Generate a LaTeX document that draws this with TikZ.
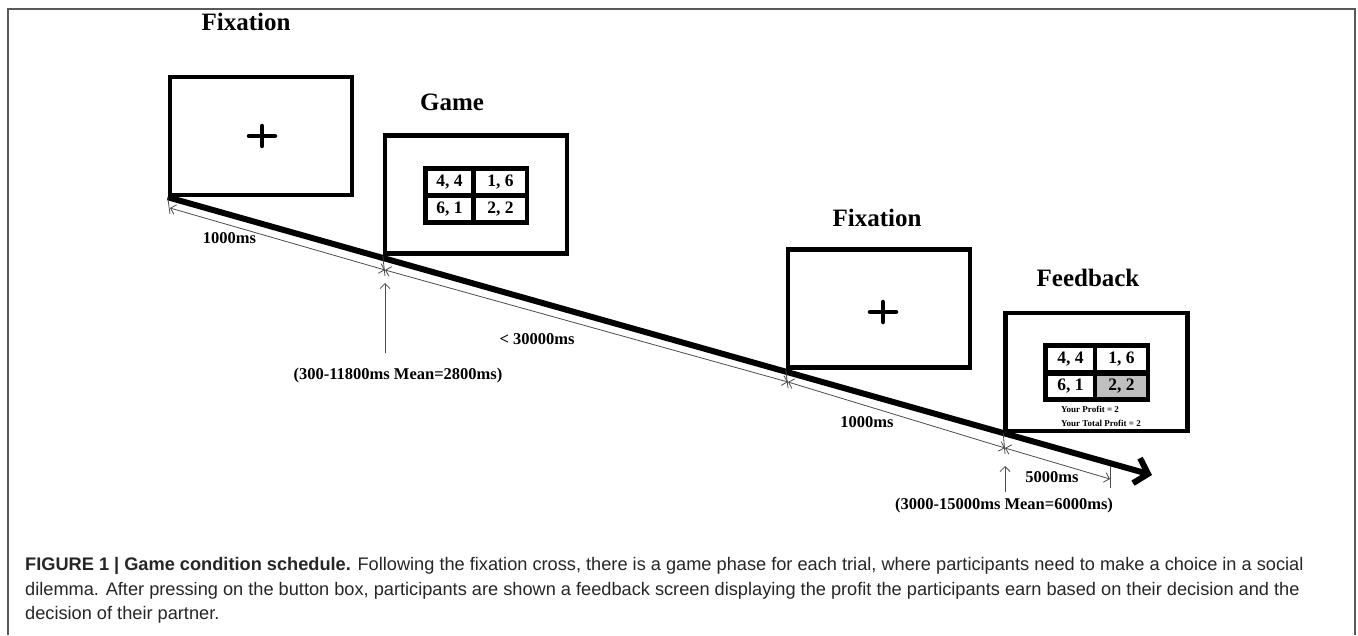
\documentclass[tikz,border=0pt]{standalone}
\usepackage{fontspec}
\setmainfont{Liberation Serif}
\setsansfont{Liberation Sans}
\usetikzlibrary{arrows.meta,calc}
\begin{document}
\begin{tikzpicture}[x=1pt,y=-1pt,
  screen/.style={draw=black,line width=4.5pt,fill=white,minimum width=182pt,minimum height=118pt,inner sep=0pt},
  lbl/.style={font=\fontsize{25}{25}\selectfont\bfseries,inner sep=0pt},
  tlbl/.style={font=\fontsize{16.5}{17}\selectfont\bfseries,inner sep=0pt},
  tabframe/.style={fill=black,inner sep=0pt,minimum width=106pt,minimum height=59pt},
  cellbox/.style={fill=white,inner sep=0pt,minimum height=22pt,font=\fontsize{17.5}{17}\selectfont\bfseries},
  profittxt/.style={font=\fontsize{9}{9}\selectfont\bfseries,inner sep=0pt,anchor=base west},
  crossline/.style={line width=4.5pt,line cap=round},
  dimline/.style={draw=black!70,line width=0.8pt,{Straight Barb[length=5pt,width=10pt]}-{Straight Barb[length=5pt,width=10pt]}},
  tickline/.style={draw=black!70,line width=0.8pt},
  uparrow/.style={draw=black!70,line width=0.8pt,-{Straight Barb[length=5pt,width=10pt]}},
  timeline/.style={line width=6pt,-{Straight Barb[length=12pt,width=26pt]}},
  captxt/.style={font=\sffamily\fontsize{18.2}{22}\selectfont,inner sep=0pt,anchor=base west,color=black!85}
]
\useasboundingbox (0,0) rectangle (1358,635);
\fill[white] (0,0) rectangle (1358,635);
% outer frame
\draw[black!65,line width=1.6pt] (8,635) -- (8,9) -- (1355,9) -- (1355,635);

% screens
\node[screen] (fix1) at (261,136) {};
\node[screen] (game) at (476,194.5) {};
\node[screen] (fix2) at (879,308.5) {};
\node[screen] (fb) at (1096.5,372) {};

% labels
\node[lbl] (lfix1) at (246,22) {Fixation};
\node[lbl] (lgame) at (452,102) {Game};
\node[lbl] (lfix2) at (877,218) {Fixation};
\node[lbl] (lfb) at (1088,278) {Feedback};

% crosses
\draw[crossline] (249,136) -- (275,136) (262,126) -- (262,146);
\draw[crossline] (870,312) -- (896,312) (883,302) -- (883,322);

% game table
\node[tabframe] (gtab) at (476,195.5) {};
\node[cellbox,minimum width=43pt] (g11) at (449.5,182) {4, 4};
\node[cellbox,minimum width=49pt] (g12) at (500.5,182) {1, 6};
\node[cellbox,minimum width=43pt] (g21) at (449.5,209) {6, 1};
\node[cellbox,minimum width=49pt] (g22) at (500.5,209) {2, 2};

% feedback table
\node[tabframe,minimum width=107pt] (ftab) at (1096.5,372.5) {};
\node[cellbox,minimum width=45pt] (f11) at (1070.5,359) {4, 4};
\node[cellbox,minimum width=49pt] (f12) at (1121.5,359) {1, 6};
\node[cellbox,minimum width=45pt,minimum height=21pt] (f21) at (1070.5,386.5) {6, 1};
\node[cellbox,minimum width=49pt,minimum height=21pt,fill=black!25] (f22) at (1121.5,386.5) {2, 2};
\node[profittxt] (p1) at (1061,412) {Your Profit = 2};
\node[profittxt] (p2) at (1061,426) {Your Total Profit = 2};

% timeline
\coordinate (tend) at (1152,475);
\draw[timeline] (fix1.south west) -- (tend);

% dimension line
\coordinate (d0) at (170,208);
\coordinate (d1) at (385,270);
\coordinate (d2) at (788,382);
\coordinate (d3) at (1005,448);
\coordinate (d4) at (1110,479);
\draw[dimline] (d0) -- (d1);
\draw[dimline] (d1) -- (d2);
\draw[dimline] (d2) -- (d3);
\draw[dimline] (d3) -- (d4);
% ticks
\coordinate (k0) at (170,214);
\coordinate (k1) at (385,276);
\coordinate (k2) at (788,388);
\coordinate (k3) at (1005,454);
\coordinate (k4a) at (1110,466);
\coordinate (k4b) at (1110,488);
\draw[tickline] (fix1.south west) -- (k0);
\draw[tickline] (game.south west) -- (k1);
\draw[tickline] (fix2.south west) -- (k2);
\draw[tickline] (fb.south west) -- (k3);
\draw[tickline] (k4a) -- (k4b);

% up arrows
\coordinate (u1a) at (385,353);
\coordinate (u1b) at (385,283);
\coordinate (u2a) at (1005,492);
\coordinate (u2b) at (1005,466);
\draw[uparrow] (u1a) -- (u1b);
\draw[uparrow] (u2a) -- (u2b);

% time labels
\node[tlbl] (t1) at (229.5,238) {1000ms};
\node[tlbl] (t2) at (537,339) {< 30000ms};
\node[tlbl] (t3) at (398,376) {(300-11800ms Mean=2800ms)};
\node[tlbl] (t4) at (867,422) {1000ms};
\node[tlbl] (t5) at (1052,477) {5000ms};
\node[tlbl] (t6) at (1004,506) {(3000-15000ms Mean=6000ms)};

% caption
\node[captxt] (c1) at (25,570) {\textbf{FIGURE 1 | Game condition schedule.} Following the fixation cross, there is a game phase for each trial, where participants need to make a choice in a social};
\node[captxt] (c2) at (25,595) {dilemma. After pressing on the button box, participants are shown a feedback screen displaying the profit the participants earn based on their decision and the};
\node[captxt] (c3) at (25,619) {decision of their partner.};
\end{tikzpicture}
\end{document}
